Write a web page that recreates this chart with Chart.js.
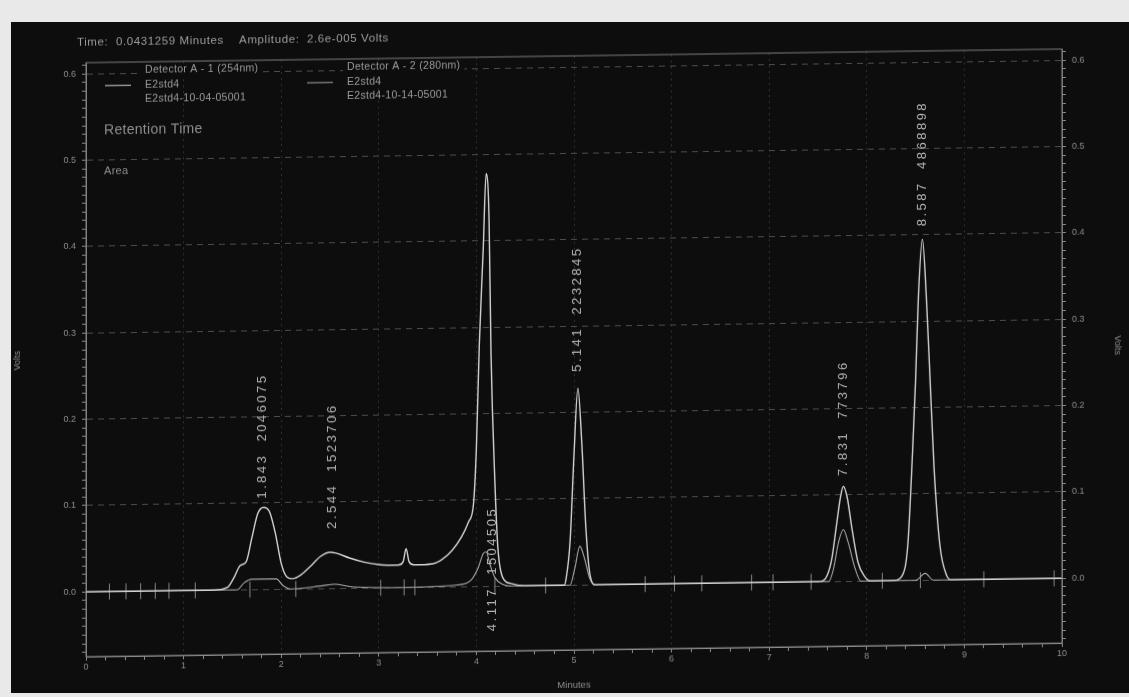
<!DOCTYPE html>
<html>
<head>
<meta charset="utf-8">
<script src="https://cdn.jsdelivr.net/npm/chart.js@4.4.1/dist/chart.umd.min.js"></script>
<style>
  html, body { margin: 0; padding: 0; background: #e9e9e9; }
  #screen { position: absolute; left: 11px; top: 22px; width: 1118px; height: 671px; background: #0d0d0d; }
  #wrap { position: absolute; left: 0; top: 0; width: 1129px; height: 697px; transform: skewY(-0.8deg); transform-origin: 564px 348px; }
</style>
</head>
<body>
<div id="screen"></div>
<div id="wrap"><canvas id="chrom"></canvas></div>
<script>
// ====== data ======
// Detector A - 1 (254nm), minutes / volts
const timeA1 = [0, 1.30, 1.45, 1.52, 1.58, 1.64, 1.70, 1.76, 1.82, 1.88, 1.94, 2.00, 2.06, 2.12, 2.20, 2.30, 2.40, 2.50, 2.56, 2.70, 2.85, 3.00, 3.20, 3.25, 3.28, 3.31, 3.36, 3.55, 3.65, 3.75, 3.85, 3.92, 3.97, 4.00, 4.03, 4.07, 4.10, 4.13, 4.15, 4.19, 4.22, 4.27, 4.35, 4.50, 4.90, 4.92, 4.96, 5.00, 5.04, 5.08, 5.12, 5.16, 5.22, 7.51, 7.58, 7.64, 7.69, 7.73, 7.76, 7.80, 7.85, 7.91, 7.98, 8.04, 8.28, 8.36, 8.42, 8.47, 8.50, 8.53, 8.57, 8.61, 8.65, 8.69, 8.75, 8.82, 8.87, 10];
const voltsA1 = [0, 0, 0.003, 0.015, 0.028, 0.032, 0.060, 0.088, 0.095, 0.090, 0.065, 0.030, 0.014, 0.012, 0.016, 0.026, 0.037, 0.042, 0.041, 0.035, 0.030, 0.027, 0.026, 0.030, 0.045, 0.030, 0.026, 0.027, 0.032, 0.042, 0.058, 0.075, 0.095, 0.160, 0.280, 0.390, 0.478, 0.425, 0.270, 0.120, 0.045, 0.010, 0.003, 0, 0, 0.008, 0.050, 0.150, 0.228, 0.165, 0.070, 0.015, 0, 0, 0.004, 0.025, 0.065, 0.097, 0.110, 0.097, 0.060, 0.022, 0.005, 0, 0, 0.005, 0.040, 0.150, 0.230, 0.330, 0.395, 0.330, 0.230, 0.130, 0.040, 0.005, 0, 0];

// Detector A - 2 (280nm)
const timeA2 = [0, 1.55, 1.62, 1.70, 1.95, 2.02, 2.10, 2.40, 2.55, 2.70, 3.20, 3.80, 3.95, 4.02, 4.07, 4.10, 4.14, 4.19, 4.27, 4.36, 4.96, 5.01, 5.06, 5.11, 5.16, 5.22, 7.61, 7.66, 7.71, 7.76, 7.81, 7.88, 7.94, 8.50, 8.60, 8.68, 10];
const voltsA2 = [0, 0, 0.008, 0.012, 0.012, 0.004, 0, 0.003, 0.005, 0.002, 0, 0.002, 0.008, 0.022, 0.038, 0.040, 0.025, 0.010, 0.002, 0, 0, 0.020, 0.045, 0.030, 0.008, 0, 0, 0.015, 0.045, 0.060, 0.045, 0.015, 0, 0, 0.008, 0, 0];

// integration event marks on the baseline
const eventTimes = [0.24, 0.41, 0.56, 0.71, 0.85, 1.12, 1.68, 2.15, 3.02, 3.26, 3.37, 4.19, 4.71, 5.73, 6.03, 6.31, 6.82, 7.04, 7.43, 8.16, 8.55, 9.20, 9.92];

// peak labels: retention time + area
const peakLabelX = [1.81, 2.52, 4.16, 5.03, 7.76, 8.57];
const peakLabelBase = [0.105, 0.069, -0.052, 0.247, 0.122, 0.41];
const peakText = ['1.843  2046075', '2.544  1523706', '4.117  1504505', '5.141  2232845', '7.831  773796', '8.587  4868898'];

const headerText = 'Time:  0.0431259 Minutes    Amplitude:  2.6e-005 Volts';
const legendDetectors = ['Detector A - 1 (254nm)', 'Detector A - 2 (280nm)'];
const legendNames = ['E2std4', 'E2std4'];
const legendFiles = ['E2std4-10-04-05001', 'E2std4-10-14-05001'];

const TRACE_A1 = '#d2d2d2';
const TRACE_A2 = '#a6a6a6';
const TEXT_COLOR = '#9a9a9a';
const AXIS_COLOR = '#8a8a8a';

function isStep(v, step) {
  const k = v / step;
  return Math.abs(k - Math.round(k)) < 1e-6;
}
function tickIs(c, step) {
  return !!(c && c.tick && isStep(c.tick.value, step));
}

// ====== header, legend and peak labels ======
const overlayPlugin = {
  id: 'overlay',
  afterDatasetsDraw(chart) {
    const { ctx, chartArea } = chart;
    const x = chart.scales.x;
    const y = chart.scales.y;
    ctx.save();

    // header
    ctx.fillStyle = TEXT_COLOR;
    ctx.font = '11.5px "Liberation Sans", Arial, sans-serif';
    ctx.letterSpacing = '0.6px';
    ctx.textBaseline = 'middle';
    ctx.textAlign = 'left';
    ctx.fillText(headerText, 77, 36);

    // legend on the 0.6 gridline
    const rowY = y.getPixelForValue(0.6) - 3;
    const cols = [chartArea.left + 59, chartArea.left + 261];
    ctx.font = '10.5px "Liberation Sans", Arial, sans-serif';
    ctx.letterSpacing = '0.3px';
    cols.forEach((cx, i) => {
      const w = ctx.measureText(legendDetectors[i]).width;
      ctx.fillStyle = '#0d0d0d';
      ctx.fillRect(cx - 4, rowY - 6, w + 8, 12);
      ctx.fillStyle = TEXT_COLOR;
      ctx.fillText(legendDetectors[i], cx, rowY);
      ctx.fillText(legendNames[i], cx, rowY + 15);
      ctx.fillText(legendFiles[i], cx, rowY + 29);
      ctx.strokeStyle = i === 0 ? TRACE_A1 : TRACE_A2;
      ctx.lineWidth = 1;
      ctx.beginPath();
      ctx.moveTo(cx - 40, rowY + 15);
      ctx.lineTo(cx - 14, rowY + 15);
      ctx.stroke();
    });

    ctx.fillStyle = '#8c8c8c';
    ctx.font = '14px "Liberation Sans", Arial, sans-serif';
    ctx.fillText('Retention Time', chartArea.left + 18, rowY + 60);
    ctx.font = '11px "Liberation Sans", Arial, sans-serif';
    ctx.fillText('Area', chartArea.left + 18, rowY + 101);

    // peak labels, vertical
    ctx.fillStyle = '#b4b4b4';
    ctx.font = '13px "Liberation Sans", Arial, sans-serif';
    ctx.letterSpacing = '2.5px';
    peakText.forEach((t, i) => {
      const px = x.getPixelForValue(peakLabelX[i]);
      const py = y.getPixelForValue(peakLabelBase[i]);
      ctx.save();
      ctx.translate(px, py);
      ctx.rotate(-Math.PI / 2);
      ctx.textAlign = 'left';
      ctx.textBaseline = 'middle';
      ctx.fillText(t, 0, 0);
      ctx.restore();
    });
    ctx.letterSpacing = '0px';

    // frame
    ctx.strokeStyle = '#7a7a7a';
    ctx.lineWidth = 1;
    ctx.strokeRect(chartArea.left, chartArea.top, chartArea.right - chartArea.left, chartArea.bottom - chartArea.top);
    ctx.restore();
  }
};

const tickFont = { family: '"Liberation Sans", Arial, sans-serif', size: 9 };

function yAxis(position, width, titlePad) {
  return {
    type: 'linear',
    position,
    min: -0.075,
    max: 0.613,
    afterFit: s => { s.width = width; },
    border: {
      color: AXIS_COLOR,
      dash: c => (tickIs(c, 0.1) ? [6, 5] : [])
    },
    grid: {
      drawOnChartArea: position === 'left',
      color: c => (tickIs(c, 0.1) ? '#4c4c4c' : 'rgba(0,0,0,0)'),
      tickColor: AXIS_COLOR,
      tickLength: 4
    },
    ticks: {
      stepSize: 0.01,
      autoSkip: false,
      includeBounds: false,
      color: AXIS_COLOR,
      font: tickFont,
      padding: 6,
      callback: v => (isStep(v, 0.1) ? (Math.round(v * 10) / 10).toFixed(1) : '')
    },
    title: { display: true, text: 'Volts', color: AXIS_COLOR, font: tickFont, padding: { top: titlePad, bottom: 0 } }
  };
}

const ctx = document.getElementById('chrom').getContext('2d');

new Chart(ctx, {
  type: 'line',
  data: {
    datasets: [
      {
        label: legendDetectors[0],
        data: timeA1.map((t, i) => ({ x: t, y: voltsA1[i] })),
        borderColor: TRACE_A1,
        borderWidth: 1.4,
        pointRadius: 0,
        cubicInterpolationMode: 'monotone'
      },
      {
        label: legendDetectors[1],
        data: timeA2.map((t, i) => ({ x: t, y: voltsA2[i] })),
        borderColor: TRACE_A2,
        borderWidth: 1.1,
        pointRadius: 0,
        cubicInterpolationMode: 'monotone'
      },
      {
        type: 'scatter',
        label: 'events',
        data: eventTimes.map(t => ({ x: t, y: 0 })),
        pointStyle: 'line',
        rotation: 90,
        radius: 8,
        borderColor: '#858585',
        borderWidth: 1,
        showLine: false
      }
    ]
  },
  options: {
    responsive: true,
    maintainAspectRatio: false,
    animation: false,
    parsing: false,
    layout: { padding: { top: 56, left: 0, right: 0, bottom: 0 } },
    scales: {
      x: {
        type: 'linear',
        min: 0,
        max: 10,
        afterFit: s => { s.height = 47; },
        border: { color: '#9a9a9a', dash: [2, 4] },
        grid: {
          color: c => (tickIs(c, 1) ? '#2f2f2f' : 'rgba(0,0,0,0)'),
          tickColor: AXIS_COLOR,
          tickLength: 4
        },
        ticks: {
          stepSize: 0.2,
          autoSkip: false,
          maxRotation: 0,
          color: AXIS_COLOR,
          font: tickFont,
          padding: 1,
          callback: v => (isStep(v, 1) ? String(Math.round(v)) : '')
        },
        title: { display: true, text: 'Minutes', color: AXIS_COLOR, font: { ...tickFont, size: 9.5 }, padding: { top: 0, bottom: 6 } }
      },
      y: yAxis('left', 86, 12),
      y2: yAxis('right', 67, 6)
    },
    plugins: {
      legend: { display: false },
      tooltip: { enabled: false }
    }
  },
  plugins: [overlayPlugin]
});
</script>
</body>
</html>
